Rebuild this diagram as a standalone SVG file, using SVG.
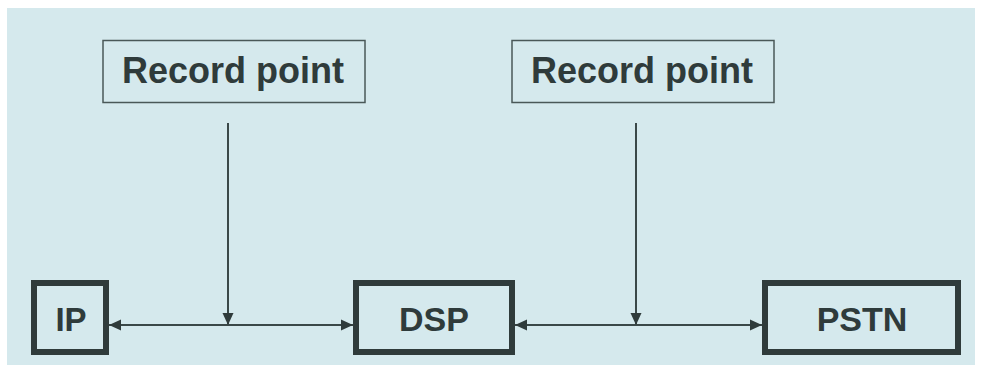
<svg xmlns="http://www.w3.org/2000/svg" width="981" height="372" viewBox="0 0 981 372">
  <style>
    .lbl { font-family: "Liberation Sans", Arial, sans-serif; font-weight: bold; fill: #2f3b3b; text-anchor: middle; }
    .rp { fill: none; stroke: #4a5858; stroke-width: 1.5; }
    .node { fill: none; stroke: #2f3b3b; stroke-width: 6; }
    .conn { stroke: #3a4848; stroke-width: 2; fill: none; }
  </style>
  <defs>
    <marker id="arr" viewBox="0 0 12 12" refX="12" refY="6" markerWidth="12" markerHeight="12" markerUnits="userSpaceOnUse" orient="auto-start-reverse">
      <path d="M0,0.5 L12,6 L0,11.5 Z" fill="#2f3b3b"/>
    </marker>
  </defs>
  <rect x="0" y="0" width="981" height="372" fill="#ffffff"/>
  <rect x="7" y="8" width="968" height="357" fill="#d5e9ed"/>

  <g id="record1">
    <rect class="rp" x="103" y="40.5" width="262" height="62"/>
    <text class="lbl" x="233" y="83" font-size="36">Record point</text>
  </g>
  <g id="record2">
    <rect class="rp" x="512" y="40.5" width="262" height="62"/>
    <text class="lbl" x="642" y="83" font-size="36">Record point</text>
  </g>
  <g id="ip">
    <rect class="node" x="34" y="283" width="72" height="69"/>
    <text class="lbl" x="71" y="331" font-size="33">IP</text>
  </g>
  <g id="dsp">
    <rect class="node" x="356" y="283" width="156" height="69"/>
    <text class="lbl" x="434" y="331" font-size="34">DSP</text>
  </g>
  <g id="pstn">
    <rect class="node" x="765" y="283" width="193" height="69"/>
    <text class="lbl" x="862" y="331" font-size="34">PSTN</text>
  </g>

  <g id="connectors">
    <line class="conn" x1="109" y1="325" x2="353" y2="325" marker-start="url(#arr)" marker-end="url(#arr)"/>
    <line class="conn" x1="515" y1="325" x2="762" y2="325" marker-start="url(#arr)" marker-end="url(#arr)"/>
    <line class="conn" x1="228" y1="123" x2="228" y2="325" marker-end="url(#arr)"/>
    <line class="conn" x1="636" y1="123" x2="636" y2="325" marker-end="url(#arr)"/>
  </g>
</svg>
